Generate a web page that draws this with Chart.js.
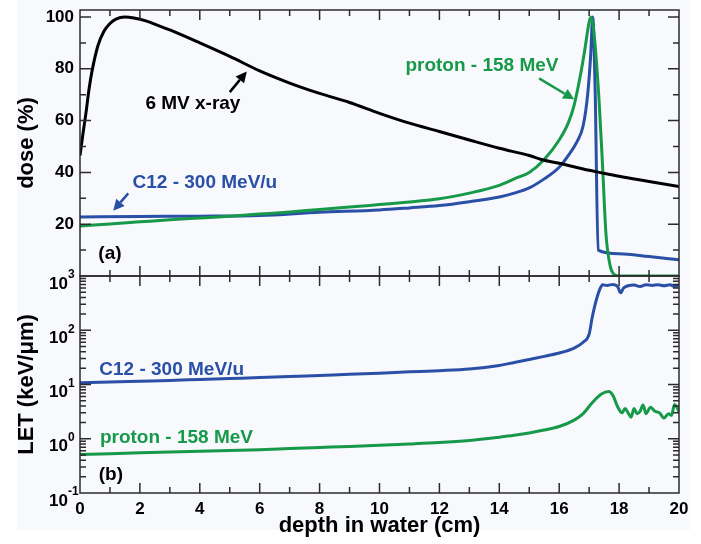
<!DOCTYPE html>
<html>
<head>
<meta charset="utf-8">
<script src="https://cdn.jsdelivr.net/npm/chart.js@4.4.1/dist/chart.umd.min.js"></script>
<style>
  html, body { margin: 0; padding: 0; background: #fff; }
  #wrap { width: 701px; height: 544px; }
</style>
</head>
<body>
<div id="wrap"><canvas id="chart" width="701" height="544"></canvas></div>
<script>
// depth (cm) and values
var xrayDepth = [0, 0.1, 0.2, 0.3, 0.4, 0.6, 0.8, 1.0, 1.2, 1.5, 1.8, 2.2, 2.6, 3, 4, 5, 6, 7, 8, 9, 10, 11, 12, 13, 14, 15, 15.4, 16, 17, 17.3, 18, 19, 20];
var xrayDose = [46.5, 55, 63, 72, 79, 89, 94.5, 97.5, 99.2, 100, 99.6, 98.5, 96.8, 95, 90, 84.8, 79.2, 74.5, 70.5, 67, 62.8, 59, 55.8, 52.5, 49.3, 46.5, 45, 43.5, 40.8, 40.1, 38.5, 36.5, 34.5];

var protonDoseDepth = [0, 1, 2, 3, 4, 5, 6, 7, 8, 9, 10, 11, 12, 13, 14, 14.5, 15, 15.5, 16, 16.3, 16.5, 16.7, 16.85, 17.0, 17.06, 17.15, 17.33, 17.45, 17.56, 17.7, 17.85, 18, 19, 20];
var protonDose = [19.3, 20.1, 20.9, 21.7, 22.4, 23.1, 23.9, 24.7, 25.7, 26.6, 27.6, 28.6, 29.8, 32, 35, 37.5, 40, 45, 52.5, 59, 66, 77, 87, 98, 100, 95, 68, 42, 16.5, 4, 0.5, 0, 0, 0];

var carbonDoseDepth = [0, 2, 4, 6, 8, 10, 11, 12, 13, 14, 14.5, 15, 15.5, 16, 16.3, 16.6, 16.8, 16.95, 17.05, 17.12, 17.2, 17.3, 18, 19, 20];
var carbonDose = [22.8, 23, 23.1, 23.4, 24.6, 25.5, 26.3, 27.2, 28.7, 30.5, 32, 34, 37.5, 42, 46.5, 52, 58, 70, 85, 100, 72, 10, 8.6, 7.5, 6.3];

var carbonLetDepth = [0, 1, 2, 3, 4, 5, 6, 7, 8, 9, 10, 11, 12, 13, 14, 14.5, 15, 15.5, 16, 16.5, 16.8, 17.0, 17.1, 17.2, 17.35, 17.45, 17.6, 17.8, 17.95, 18.05, 18.15, 18.3, 18.5, 18.7, 18.9, 19.1, 19.3, 19.5, 19.7, 19.85, 20];
var carbonLet = [10.8, 11.1, 11.5, 11.9, 12.4, 12.9, 13.4, 14, 14.7, 15.4, 16.2, 17.1, 18, 19.3, 22.5, 25.5, 29, 33, 38, 47, 60, 85, 170, 300, 560, 690, 670, 700, 640, 490, 600, 660, 680, 640, 690, 670, 690, 660, 690, 640, 680];

var protonLetDepth = [0, 1, 2, 3, 4, 5, 6, 7, 8, 9, 10, 11, 12, 13, 14, 14.5, 15, 15.5, 16, 16.5, 16.8, 17.1, 17.4, 17.65, 17.8, 17.95, 18.1, 18.2, 18.3, 18.4, 18.5, 18.6, 18.7, 18.8, 18.9, 19.05, 19.2, 19.35, 19.5, 19.65, 19.75, 19.85, 19.95, 20];
var protonLet = [0.51, 0.53, 0.55, 0.57, 0.59, 0.61, 0.63, 0.66, 0.69, 0.72, 0.76, 0.8, 0.85, 0.93, 1.07, 1.16, 1.28, 1.45, 1.68, 2.2, 2.9, 4.6, 6.6, 7.4, 6.2, 3.9, 3, 3.6, 3.0, 2.5, 3.6, 2.9, 3.2, 4.2, 2.9, 3.8, 3.2, 3.0, 2.4, 2.9, 2.7, 4.3, 3.6, 3.1];

var depthTicks = [0, 2, 4, 6, 8, 10, 12, 14, 16, 18, 20];
var doseTicks = [20, 40, 60, 80, 100];
var letTicks = [0.1, 1, 10, 100, 1000];
var letExponents = ['-1', '0', '1', '2', '3'];

var BLUE = '#2a4fa6';
var GREEN = '#17994a';
var FONT = "'Liberation Sans', Arial, Helvetica, sans-serif";

function pairs(xs, ys) {
  return xs.map(function(x, i) { return {x: x, y: ys[i]}; });
}

// text labels and arrows drawn in data coordinates
var notes = [
  {text: '6 MV x-ray', color: '#000', axis: 'yDose', x: 3.77, y: 66.5},
  {text: 'proton - 158 MeV', color: GREEN, axis: 'yDose', x: 13.42, y: 81},
  {text: 'C12 - 300 MeV/u', color: BLUE, axis: 'yDose', x: 4.17, y: 35.9},
  {text: '(a)', color: '#000', axis: 'yDose', x: 1.0, y: 8.5},
  {text: 'C12 - 300 MeV/u', color: BLUE, axis: 'yLet', x: 3.06, y: 18.5},
  {text: 'proton - 158 MeV', color: GREEN, axis: 'yLet', x: 3.22, y: 1.03},
  {text: '(b)', color: '#000', axis: 'yLet', x: 1.03, y: 0.215}
];
var arrows = [
  {axis: 'yDose', color: '#000', from: [5.0, 71], to: [5.57, 79]},
  {axis: 'yDose', color: GREEN, from: [15.33, 76.3], to: [16.5, 68.2]},
  {axis: 'yDose', color: BLUE, from: [1.61, 31.9], to: [1.11, 25.2]}
];

var backdrop = {
  id: 'backdrop',
  beforeDraw: function(chart) {
    var ctx = chart.ctx;
    ctx.save();
    ctx.fillStyle = '#ffffff';
    ctx.fillRect(0, 0, chart.width, chart.height);
    ctx.fillStyle = '#f8f9fc';
    ctx.fillRect(17, 0, 673, 530);
    ctx.restore();
  }
};

var frames = {
  id: 'frames',
  afterDatasetsDraw: function(chart) {
    var ctx = chart.ctx, xs = chart.scales.x;
    var left = chart.chartArea.left, right = chart.chartArea.right;
    ctx.save();
    ctx.strokeStyle = '#2b2b2b';
    ctx.lineWidth = 1.5;
    ['yDose', 'yLet'].forEach(function(id) {
      var s = chart.scales[id];
      var top = s.top, bottom = s.bottom;
      ctx.strokeRect(left, top, right - left, bottom - top);
      ctx.beginPath();
      for (var d = 1; d < 20; d++) {
        var px = xs.getPixelForValue(d);
        var len = d % 2 === 0 ? 10 : 6;
        ctx.moveTo(px, top); ctx.lineTo(px, top + len);
        ctx.moveTo(px, bottom); ctx.lineTo(px, bottom - len);
      }
      var yt = [];
      if (id === 'yDose') {
        for (var v = 10; v <= 100; v += 10) yt.push([v, v % 20 === 0]);
      } else {
        for (var e = -1; e < 3; e++) {
          for (var m = 1; m < 10; m++) yt.push([m * Math.pow(10, e), m === 1]);
        }
      }
      yt.forEach(function(t) {
        var py = s.getPixelForValue(t[0]);
        if (py <= top + 0.5 || py >= bottom - 0.5) return;
        var len = t[1] ? 11 : 6;
        ctx.moveTo(left, py); ctx.lineTo(left + len, py);
        ctx.moveTo(right, py); ctx.lineTo(right - len, py);
      });
      ctx.stroke();
    });
    ctx.restore();
  }
};

var labels = {
  id: 'labels',
  afterDraw: function(chart) {
    var ctx = chart.ctx, xs = chart.scales.x, yl = chart.scales.yLet;
    ctx.save();
    // exponents of the log tick labels
    ctx.font = 'bold 12px ' + FONT;
    ctx.fillStyle = '#000';
    ctx.textAlign = 'left';
    ctx.textBaseline = 'middle';
    letTicks.forEach(function(v, i) {
      ctx.fillText(letExponents[i], yl.right - 12, yl.getPixelForValue(v) - 1);
    });
    ctx.font = 'bold 19px ' + FONT;
    ctx.textAlign = 'center';
    notes.forEach(function(n) {
      ctx.fillStyle = n.color;
      ctx.fillText(n.text, xs.getPixelForValue(n.x), chart.scales[n.axis].getPixelForValue(n.y));
    });
    arrows.forEach(function(a) {
      var ys = chart.scales[a.axis];
      var x0 = xs.getPixelForValue(a.from[0]), y0 = ys.getPixelForValue(a.from[1]);
      var x1 = xs.getPixelForValue(a.to[0]), y1 = ys.getPixelForValue(a.to[1]);
      var ang = Math.atan2(y1 - y0, x1 - x0);
      var hl = 11, hw = 5.5;
      var bx = x1 - hl * Math.cos(ang), by = y1 - hl * Math.sin(ang);
      ctx.strokeStyle = a.color;
      ctx.fillStyle = a.color;
      ctx.lineWidth = 2.5;
      ctx.beginPath();
      ctx.moveTo(x0, y0); ctx.lineTo(bx, by);
      ctx.stroke();
      ctx.beginPath();
      ctx.moveTo(x1, y1);
      ctx.lineTo(bx + hw * Math.sin(ang), by - hw * Math.cos(ang));
      ctx.lineTo(bx - hw * Math.sin(ang), by + hw * Math.cos(ang));
      ctx.closePath();
      ctx.fill();
    });
    ctx.restore();
  }
};

function line(data, color, axis) {
  return {
    data: data,
    borderColor: color,
    borderWidth: 3,
    pointRadius: 0,
    fill: false,
    cubicInterpolationMode: 'monotone',
    yAxisID: axis
  };
}

function noPad(s) { s.paddingTop = 0; s.paddingBottom = 0; }

Chart.defaults.font.family = FONT;
Chart.defaults.font.weight = 'bold';
Chart.defaults.color = '#000';

var chart = new Chart(document.getElementById('chart').getContext('2d'), {
  type: 'line',
  data: {
    datasets: [
      line(pairs(xrayDepth, xrayDose), '#000', 'yDose'),
      line(pairs(protonDoseDepth, protonDose), GREEN, 'yDose'),
      line(pairs(carbonDoseDepth, carbonDose), BLUE, 'yDose'),
      line(pairs(carbonLetDepth, carbonLet), BLUE, 'yLet'),
      line(pairs(protonLetDepth, protonLet), GREEN, 'yLet')
    ]
  },
  options: {
    responsive: false,
    animation: false,
    layout: { padding: { left: 0, right: 22, top: 10, bottom: 0 } },
    plugins: { legend: { display: false }, tooltip: { enabled: false } },
    scales: {
      x: {
        type: 'linear',
        position: 'bottom',
        min: 0,
        max: 20,
        grid: { display: false, drawTicks: false },
        border: { display: false },
        afterBuildTicks: function(s) { s.ticks = depthTicks.map(function(v) { return {value: v}; }); },
        ticks: { font: { size: 17, weight: 'bold' }, padding: 6, maxRotation: 0, autoSkip: false },
        title: { display: true, text: 'depth in water (cm)', font: { size: 22, weight: 'bold' }, padding: { top: 0, bottom: 5 } },
        afterFit: function(s) { s.height = 51; }
      },
      yLet: {
        type: 'logarithmic',
        position: 'left',
        stack: 'panels',
        stackWeight: 217,
        min: 0.1,
        max: 1000,
        grid: { display: false, drawTicks: false },
        border: { display: false },
        afterBuildTicks: function(s) { s.ticks = letTicks.map(function(v) { return {value: v}; }); },
        ticks: {
          font: { size: 17, weight: 'bold' },
          padding: 12,
          labelOffset: 8,
          autoSkip: false,
          callback: function() { return '10'; }
        },
        title: { display: true, text: 'LET (keV/\u03BCm)', font: { size: 22, weight: 'bold' }, padding: { top: 14, bottom: 0 } },
        afterFit: function(s) { s.width = 80; noPad(s); }
      },
      yDose: {
        type: 'linear',
        position: 'left',
        stack: 'panels',
        stackWeight: 266,
        min: 0,
        max: 102.7,
        grid: { display: false, drawTicks: false },
        border: { display: false },
        afterBuildTicks: function(s) { s.ticks = doseTicks.map(function(v) { return {value: v}; }); },
        ticks: { font: { size: 17, weight: 'bold' }, padding: 6, autoSkip: false },
        title: { display: true, text: 'dose (%)', font: { size: 22, weight: 'bold' }, padding: { top: 14, bottom: 0 } },
        afterFit: function(s) { s.width = 80; noPad(s); }
      }
    }
  },
  plugins: [backdrop, frames, labels]
});
</script>
</body>
</html>
